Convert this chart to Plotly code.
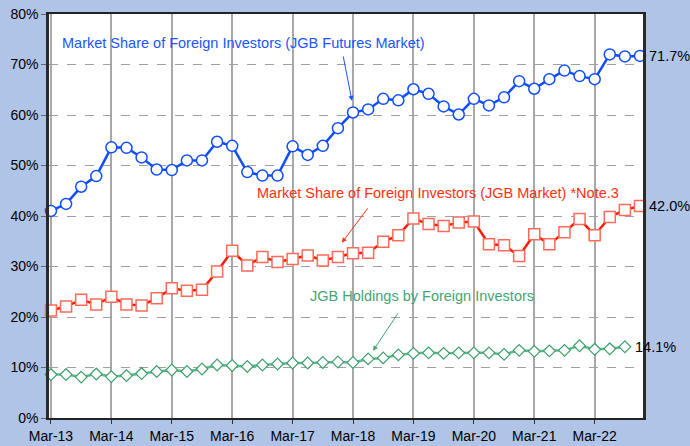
import plotly.graph_objects as go

# ---- data -----------------------------------------------------------------
years = list(range(13, 23))
months = ["Mar", "Jun", "Sep", "Dec"]
quarters = [f"{m}-{y}" for y in years for m in months]  # Mar-13 .. Dec-22

futures_share = [41.0, 42.4, 45.8, 47.9, 53.6, 53.5, 51.6, 49.2, 49.1, 51.0,
                 51.0, 54.7, 53.9, 48.7, 48.0, 48.0, 53.8, 52.1, 53.9, 57.4,
                 60.5, 61.1, 63.2, 62.9, 65.1, 64.2, 61.7, 60.1, 63.2, 61.9,
                 63.5, 66.7, 65.2, 67.1, 68.8, 67.7, 67.1, 72.0, 71.6, 71.7]

jgb_market_share = [21.3, 22.1, 23.4, 22.5, 24.0, 22.5, 22.3, 23.7, 25.7, 25.2,
                    25.4, 29.0, 33.1, 30.2, 31.9, 30.9, 31.5, 32.2, 31.2, 31.9,
                    32.6, 32.7, 34.9, 36.2, 39.5, 38.4, 38.0, 38.7, 38.9, 34.4,
                    34.2, 32.1, 36.4, 34.4, 36.8, 39.4, 36.2, 39.8, 41.2, 42.0]

holdings_share = [8.6, 8.6, 8.1, 8.7, 8.2, 8.4, 8.8, 9.2, 9.5, 9.2,
                  9.7, 10.5, 10.4, 10.2, 10.5, 10.7, 10.9, 10.9, 11.0, 11.1,
                  11.0, 11.7, 11.9, 12.5, 12.8, 12.9, 12.8, 12.9, 12.9, 12.9,
                  12.6, 13.4, 13.2, 13.3, 13.4, 14.3, 13.6, 13.7, 14.1]

tick_labels = [q for q in quarters if q.startswith("Mar")]
y_ticks = list(range(0, 81, 10))

label_futures = "Market Share of Foreign Investors (JGB Futures Market)"
label_market = "Market Share of Foreign Investors (JGB Market) *Note.3"
label_holdings = "JGB Holdings by Foreign Investors"

BLUE = "#0f4dff"
RED = "#ff1a00"
RED_MK = "#ff6a5a"
GREEN = "#3d9f6c"
BG = "#b0c4e7"
FONT = "Liberation Sans, Arial, sans-serif"

fig = go.Figure()

fig.add_trace(go.Scatter(
    x=quarters[:len(holdings_share)], y=holdings_share, mode="lines+markers",
    line=dict(color="#5cb888", width=2.5),
    marker=dict(symbol="diamond", size=9, color="white",
                line=dict(color=GREEN, width=1.2)),
    showlegend=False, cliponaxis=False))

fig.add_trace(go.Scatter(
    x=quarters[:len(jgb_market_share)], y=jgb_market_share, mode="lines+markers",
    line=dict(color=RED, width=2.5),
    marker=dict(symbol="square", size=11, color="white",
                line=dict(color=RED_MK, width=1.5)),
    showlegend=False, cliponaxis=False))

fig.add_trace(go.Scatter(
    x=quarters[:len(futures_share)], y=futures_share, mode="lines+markers",
    line=dict(color=BLUE, width=2.5),
    marker=dict(symbol="circle", size=11, color="white",
                line=dict(color=BLUE, width=1.5)),
    showlegend=False, cliponaxis=False))

annotations = []
# series labels
annotations.append(dict(xref="paper", yref="paper", x=0.0185, y=0.9275,
                        xanchor="left", yanchor="middle", showarrow=False,
                        text=label_futures, font=dict(color="#1a55ff", size=14.5, family=FONT)))
annotations.append(dict(xref="paper", yref="paper", x=0.3468, y=0.5565,
                        xanchor="left", yanchor="middle", showarrow=False,
                        text=label_market, font=dict(color="#ff3010", size=14.5, family=FONT)))
annotations.append(dict(xref="paper", yref="paper", x=0.436, y=0.3008,
                        xanchor="left", yanchor="middle", showarrow=False,
                        text=label_holdings, font=dict(color="#45a574", size=14.5, family=FONT)))
# arrows
annotations.append(dict(xref="paper", yref="paper", x=0.510, y=0.785, ax=-9, ay=-46,
                        text="", showarrow=True, arrowhead=2, arrowsize=1,
                        arrowwidth=1, arrowcolor="#1a55ff", standoff=0))
annotations.append(dict(xref="paper", yref="paper", x=0.493, y=0.4336, ax=27, ay=-36,
                        text="", showarrow=True, arrowhead=2, arrowsize=1,
                        arrowwidth=1, arrowcolor="#ff3010", standoff=0))
annotations.append(dict(xref="paper", yref="paper", x=0.5455, y=0.1665, ax=26, ay=-39,
                        text="", showarrow=True, arrowhead=2, arrowsize=1,
                        arrowwidth=1, arrowcolor="#45a574", standoff=0))
# end-value labels
for series, shift in ((futures_share, 7), (jgb_market_share, 7), (holdings_share, 8)):
    annotations.append(dict(x=quarters[len(series) - 1], y=series[-1],
                            xref="x", yref="y", xanchor="left", yanchor="middle",
                            xshift=shift, showarrow=False,
                            text=f"{series[-1]:.1f}%",
                            font=dict(color="black", size=14.5, family=FONT)))

fig.update_layout(
    width=690, height=446,
    margin=dict(l=49, r=47, t=14, b=28, autoexpand=False),
    paper_bgcolor=BG, plot_bgcolor="white",
    font=dict(family=FONT, size=14, color="black"),
    annotations=annotations,
    xaxis=dict(
        type="category", categoryorder="array", categoryarray=quarters,
        range=[-0.13, 39.2], automargin=False,
        tickmode="array", tickvals=tick_labels, ticktext=tick_labels,
        showgrid=True, gridcolor="#a8a8a8", gridwidth=1.5,
        showline=True, linecolor="#222", linewidth=1.5, mirror=True,
        ticks="outside", ticklen=4, tickcolor="#333",
        tickfont=dict(size=14), zeroline=False,
    ),
    yaxis=dict(
        range=[0, 80], tickmode="array", tickvals=y_ticks, automargin=False,
        ticktext=[f"{v}%" for v in y_ticks],
        showgrid=True, gridcolor="#a0a0a0", gridwidth=1, griddash="dash",
        showline=True, linecolor="#2a2a2a", linewidth=2.5, mirror=True,
        ticks="outside", ticklen=5, tickcolor="#666",
        tickfont=dict(size=14), zeroline=False,
    ),
)

fig.write_html(
    "out.html",
    config={"displayModeBar": False},
    post_script="document.body.style.margin='0px';document.body.style.overflow='hidden';"
                "document.body.style.background='" + BG + "';",
)
